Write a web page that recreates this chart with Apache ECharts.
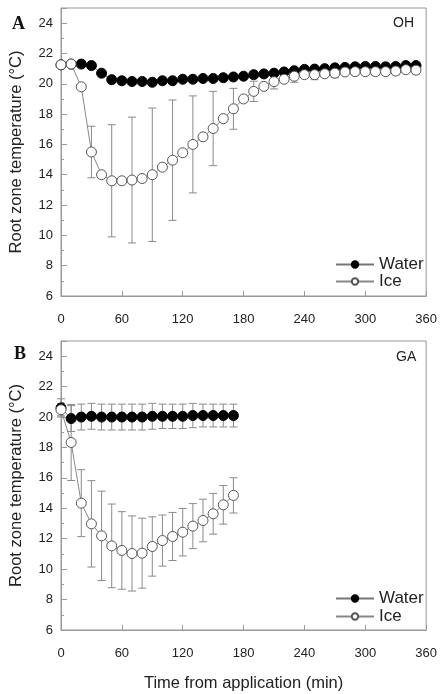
<!DOCTYPE html>
<html>
<head>
<meta charset="utf-8">
<script src="https://cdn.jsdelivr.net/npm/echarts@6/dist/echarts.min.js"></script>
<style>
html, body { margin: 0; padding: 0; background: #fff; }
#chart { width: 440px; height: 694px; }
</style>
</head>
<body>
<div id="chart"></div>
<script>
// panel A (OH): every 10 min, 0-350
var timeA = [0,10,20,30,40,50,60,70,80,90,100,110,120,130,140,150,160,170,180,190,200,210,220,230,240,250,260,270,280,290,300,310,320,330,340,350];
var waterA = [21.25,21.3,21.3,21.2,20.7,20.27,20.2,20.15,20.15,20.1,20.2,20.2,20.3,20.3,20.35,20.35,20.4,20.45,20.5,20.6,20.65,20.7,20.78,20.86,20.95,20.97,21.0,21.05,21.08,21.12,21.14,21.14,21.12,21.14,21.2,21.2];
var iceA = [21.25,21.3,19.8,15.5,14.0,13.6,13.6,13.65,13.75,14.0,14.5,14.96,15.45,16.0,16.5,17.05,17.7,18.35,19.0,19.5,19.83,20.14,20.3,20.5,20.6,20.6,20.66,20.7,20.78,20.8,20.8,20.8,20.8,20.84,20.93,20.9];
var iceA_sd = [null,null,null,1.7,null,3.7,null,4.15,null,4.4,null,3.97,null,3.2,null,2.45,null,1.35,null,0.67,null,0.48,null,0.4,null,0.33,null,0.3,null,0.25,null,0.25,null,0.25,null,0.25];

// panel B (GA): every 10 min, 0-170
var timeB = [0,10,20,30,40,50,60,70,80,90,100,110,120,130,140,150,160,170];
var waterB = [20.6,19.9,20.0,20.05,20.0,20.0,20.0,20.0,20.0,20.05,20.05,20.05,20.05,20.1,20.1,20.1,20.1,20.1];
var waterB_sd = [0.6,0.85,0.85,0.85,0.85,0.85,0.85,0.85,0.85,0.85,0.8,0.8,0.8,0.8,0.75,0.75,0.75,0.75];
var iceB = [20.48,18.33,14.34,12.98,12.19,11.53,11.23,11.03,11.05,11.49,11.88,12.15,12.43,12.83,13.2,13.64,14.23,14.85];
var iceB_sd = [0.4,2.5,2.2,2.84,2.94,2.75,2.55,2.47,2.3,1.95,1.68,1.58,1.56,1.48,1.4,1.34,1.27,1.16];

var xTicks = { min: 0, max: 360, interval: 60 };
var yTicks = { min: 6, max: 25, interval: 2 };

function pairs(t, v) {
    return t.map(function (x, i) { return [x, v[i]]; });
}
function errData(t, v, sd) {
    var out = [];
    for (var i = 0; i < t.length; i++) {
        if (sd[i] != null) out.push([t[i], v[i], sd[i]]);
    }
    return out;
}

// vertical bar with caps
function errBar(params, api) {
    var x = api.value(0), m = api.value(1), s = api.value(2);
    var hi = api.coord([x, m + s]);
    var lo = api.coord([x, m - s]);
    var w = 4;
    var st = { stroke: '#8a8a8a', lineWidth: 1 };
    return {
        type: 'group',
        children: [
            { type: 'line', shape: { x1: hi[0], y1: hi[1], x2: lo[0], y2: lo[1] }, style: st },
            { type: 'line', shape: { x1: hi[0] - w, y1: hi[1], x2: hi[0] + w, y2: hi[1] }, style: st },
            { type: 'line', shape: { x1: lo[0] - w, y1: lo[1], x2: lo[0] + w, y2: lo[1] }, style: st }
        ]
    };
}

var font = 'Arial, "Liberation Sans", sans-serif';

function xAxis(idx, withName) {
    var a = {
        gridIndex: idx, type: 'value',
        min: xTicks.min, max: xTicks.max, interval: xTicks.interval,
        axisLine: { lineStyle: { color: '#999' } },
        axisTick: { inside: true, length: 5, lineStyle: { color: '#999' } },
        axisLabel: { color: '#222', fontSize: 13, fontFamily: font, margin: 17 },
        splitLine: { show: false }
    };
    if (withName) {
        a.name = 'Time from application (min)';
        a.nameLocation = 'middle';
        a.nameGap = 45;
        a.nameTextStyle = { color: '#222', fontSize: 16.5, fontFamily: font };
    }
    return a;
}
function yAxis(idx) {
    return {
        gridIndex: idx, type: 'value',
        min: yTicks.min, max: yTicks.max, interval: yTicks.interval,
        name: 'Root zone temperature (°C)',
        nameLocation: 'middle', nameGap: 36,
        nameTextStyle: { color: '#222', fontSize: 16.5, fontFamily: font },
        axisLine: { show: true, lineStyle: { color: '#999' } },
        axisTick: { inside: true, length: 6, lineStyle: { color: '#999' } },
        minorTick: { show: true, splitNumber: 2, length: 3, lineStyle: { color: '#999' } },
        axisLabel: { color: '#222', fontSize: 13, fontFamily: font, margin: 8, showMaxLabel: false },
        splitLine: { show: false }
    };
}

function waterSeries(idx, data) {
    return {
        name: 'Water', type: 'line', xAxisIndex: idx, yAxisIndex: idx,
        data: data, symbol: 'circle', symbolSize: 10, z: 3,
        lineStyle: { color: '#777', width: 1 },
        itemStyle: { color: '#000', borderColor: '#000', borderWidth: 1 }
    };
}
function iceSeries(idx, data) {
    return {
        name: 'Ice', type: 'line', xAxisIndex: idx, yAxisIndex: idx,
        data: data, symbol: 'circle', symbolSize: 10, z: 4,
        lineStyle: { color: '#888', width: 1 },
        itemStyle: { color: '#fff', borderColor: '#555', borderWidth: 1 }
    };
}
function errSeries(idx, data) {
    return {
        type: 'custom', xAxisIndex: idx, yAxisIndex: idx,
        renderItem: errBar, data: data, z: 2, silent: true
    };
}

var legendText = { color: '#222', fontSize: 17, fontFamily: font };

var myChart = echarts.init(document.getElementById('chart'));
var option = {
    animation: false,
    grid: [
        { left: 59, right: 13, top: 8, height: 288, show: true, borderColor: '#999', borderWidth: 1 },
        { left: 59, right: 13, top: 341, height: 289, show: true, borderColor: '#999', borderWidth: 1 }
    ],
    xAxis: [xAxis(0, false), xAxis(1, true)],
    yAxis: [yAxis(0), yAxis(1)],
    legend: [
        { orient: 'vertical', left: 330, top: 251, itemWidth: 38, itemHeight: 8, itemGap: 0,
          textStyle: legendText, data: ['Water', 'Ice'] },
        { orient: 'vertical', left: 330, top: 585, itemWidth: 38, itemHeight: 8, itemGap: 1,
          textStyle: legendText, data: ['Water', 'Ice'] }
    ],
    graphic: [
        { type: 'text', left: 12, top: 15, style: { text: 'A', font: 'bold 18px "Liberation Serif", serif', fill: '#111' } },
        { type: 'text', left: 14, top: 345, style: { text: 'B', font: 'bold 18px "Liberation Serif", serif', fill: '#111' } },
        { type: 'text', left: 393, top: 16, style: { text: 'OH', font: '14px Arial, "Liberation Sans", sans-serif', fill: '#222' } },
        { type: 'text', left: 396, top: 350, style: { text: 'GA', font: '14px Arial, "Liberation Sans", sans-serif', fill: '#222' } }
    ],
    series: [
        errSeries(0, errData(timeA, iceA, iceA_sd)),
        waterSeries(0, pairs(timeA, waterA)),
        iceSeries(0, pairs(timeA, iceA)),
        errSeries(1, errData(timeB, waterB, waterB_sd)),
        errSeries(1, errData(timeB, iceB, iceB_sd)),
        waterSeries(1, pairs(timeB, waterB)),
        iceSeries(1, pairs(timeB, iceB))
    ]
};
myChart.setOption(option);
window.addEventListener('resize', function () {
    myChart.resize();
});
</script>
</body>
</html>
